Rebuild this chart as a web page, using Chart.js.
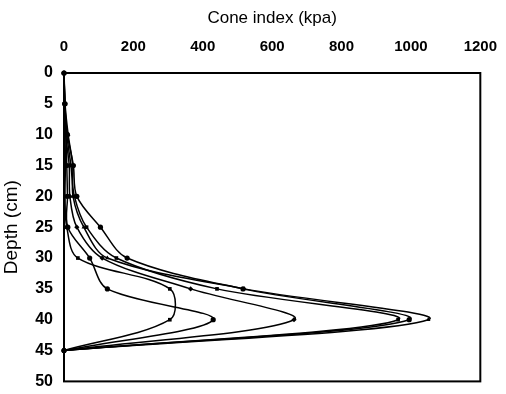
<!DOCTYPE html>
<html>
<head>
<meta charset="utf-8">
<script src="https://cdn.jsdelivr.net/npm/chart.js@4/dist/chart.umd.min.js"></script>
<style>
  html, body { margin: 0; padding: 0; background: #fff; }
  #wrap { width: 506px; height: 394px; position: relative; }
</style>
</head>
<body>
<div id="wrap"><canvas id="c" width="506" height="394"></canvas></div>
<script>
// Penetrometer profiles: cone index (kPa) measured every 5 cm of depth
const depths = [0, 5, 10, 15, 20, 25, 30, 35, 40, 45];

const profile1 = [0, 2, 10, 27, 37, 105, 182, 516, 995, 0];
const profile2 = [0, 2, 8, 20, 30, 65, 151, 441, 963, 0];
const profile3 = [0, 3, 12, 25, 26, 57, 125, 520, 1050, 0];
const profile4 = [0, 2, 5, 15, 17, 37, 110, 365, 663, 0];
const profile5 = [0, 3, 6, 8, 10, 11, 74, 125, 430, 0];
const profile6 = [0, 2, 3, 4, 3, 8, 40, 305, 305, 0];

const profiles = [profile1, profile2, profile3, profile4, profile5, profile6];
const markerStyles = ['circle', 'rect', 'triangle', 'rectRot', 'circle', 'rect'];

const xTicks = [0, 200, 400, 600, 800, 1000, 1200];
const yTicks = [0, 5, 10, 15, 20, 25, 30, 35, 40, 45, 50];

const FONT = '"Liberation Sans", Arial, sans-serif';

const datasets = profiles.map((vals, i) => ({
  label: 'Profile ' + (i + 1),
  data: vals.map((v, k) => ({ x: v, y: depths[k] })),
  borderColor: '#000',
  backgroundColor: '#000',
  borderWidth: 1.5,
  pointStyle: markerStyles[i],
  pointRadius: 2.6,
  pointBorderWidth: 0,
  tension: 0.33,
  clip: false,
  fill: false
}));

// Black box around the plotting area
const frame = {
  id: 'frame',
  beforeDatasetsDraw(chart) {
    const a = chart.chartArea, ctx = chart.ctx;
    ctx.save();
    ctx.strokeStyle = '#000';
    ctx.lineWidth = 2;
    ctx.strokeRect(a.left, a.top, a.right - a.left, a.bottom - a.top);
    ctx.restore();
  }
};

new Chart(document.getElementById('c'), {
  type: 'line',
  data: { datasets },
  plugins: [frame],
  options: {
    responsive: false,
    animation: false,
    layout: { autoPadding: false, padding: { left: 0, right: 18, top: 8, bottom: 10 } },
    plugins: { legend: { display: false }, tooltip: { enabled: false } },
    scales: {
      x: {
        type: 'linear',
        position: 'top',
        min: 0, max: 1200,
        afterBuildTicks(s) { s.ticks = xTicks.map(v => ({ value: v })); },
        afterFit(s) { s.height = 65; },
        grid: { display: false },
        border: { display: false },
        ticks: { color: '#000', padding: 9, callback: v => String(v),
                 font: { family: FONT, size: 15, weight: 'bold' } },
        title: { display: true, text: 'Cone index (kpa)', color: '#000', padding: { top: 0, bottom: 4 },
                 font: { family: FONT, size: 17 } }
      },
      y: {
        type: 'linear',
        reverse: true,
        min: 0, max: 50,
        afterBuildTicks(s) { s.ticks = yTicks.map(v => ({ value: v })); },
        afterFit(s) { s.width = 64; },
        grid: { display: false },
        border: { display: false },
        ticks: { color: '#000', padding: 3, callback: v => String(v),
                 font: { family: FONT, size: 16, weight: 'bold' } },
        title: { display: true, text: 'Depth (cm)', color: '#000', padding: { top: 0, bottom: 2 },
                 font: { family: FONT, size: 19 } }
      }
    }
  }
});
</script>
</body>
</html>
